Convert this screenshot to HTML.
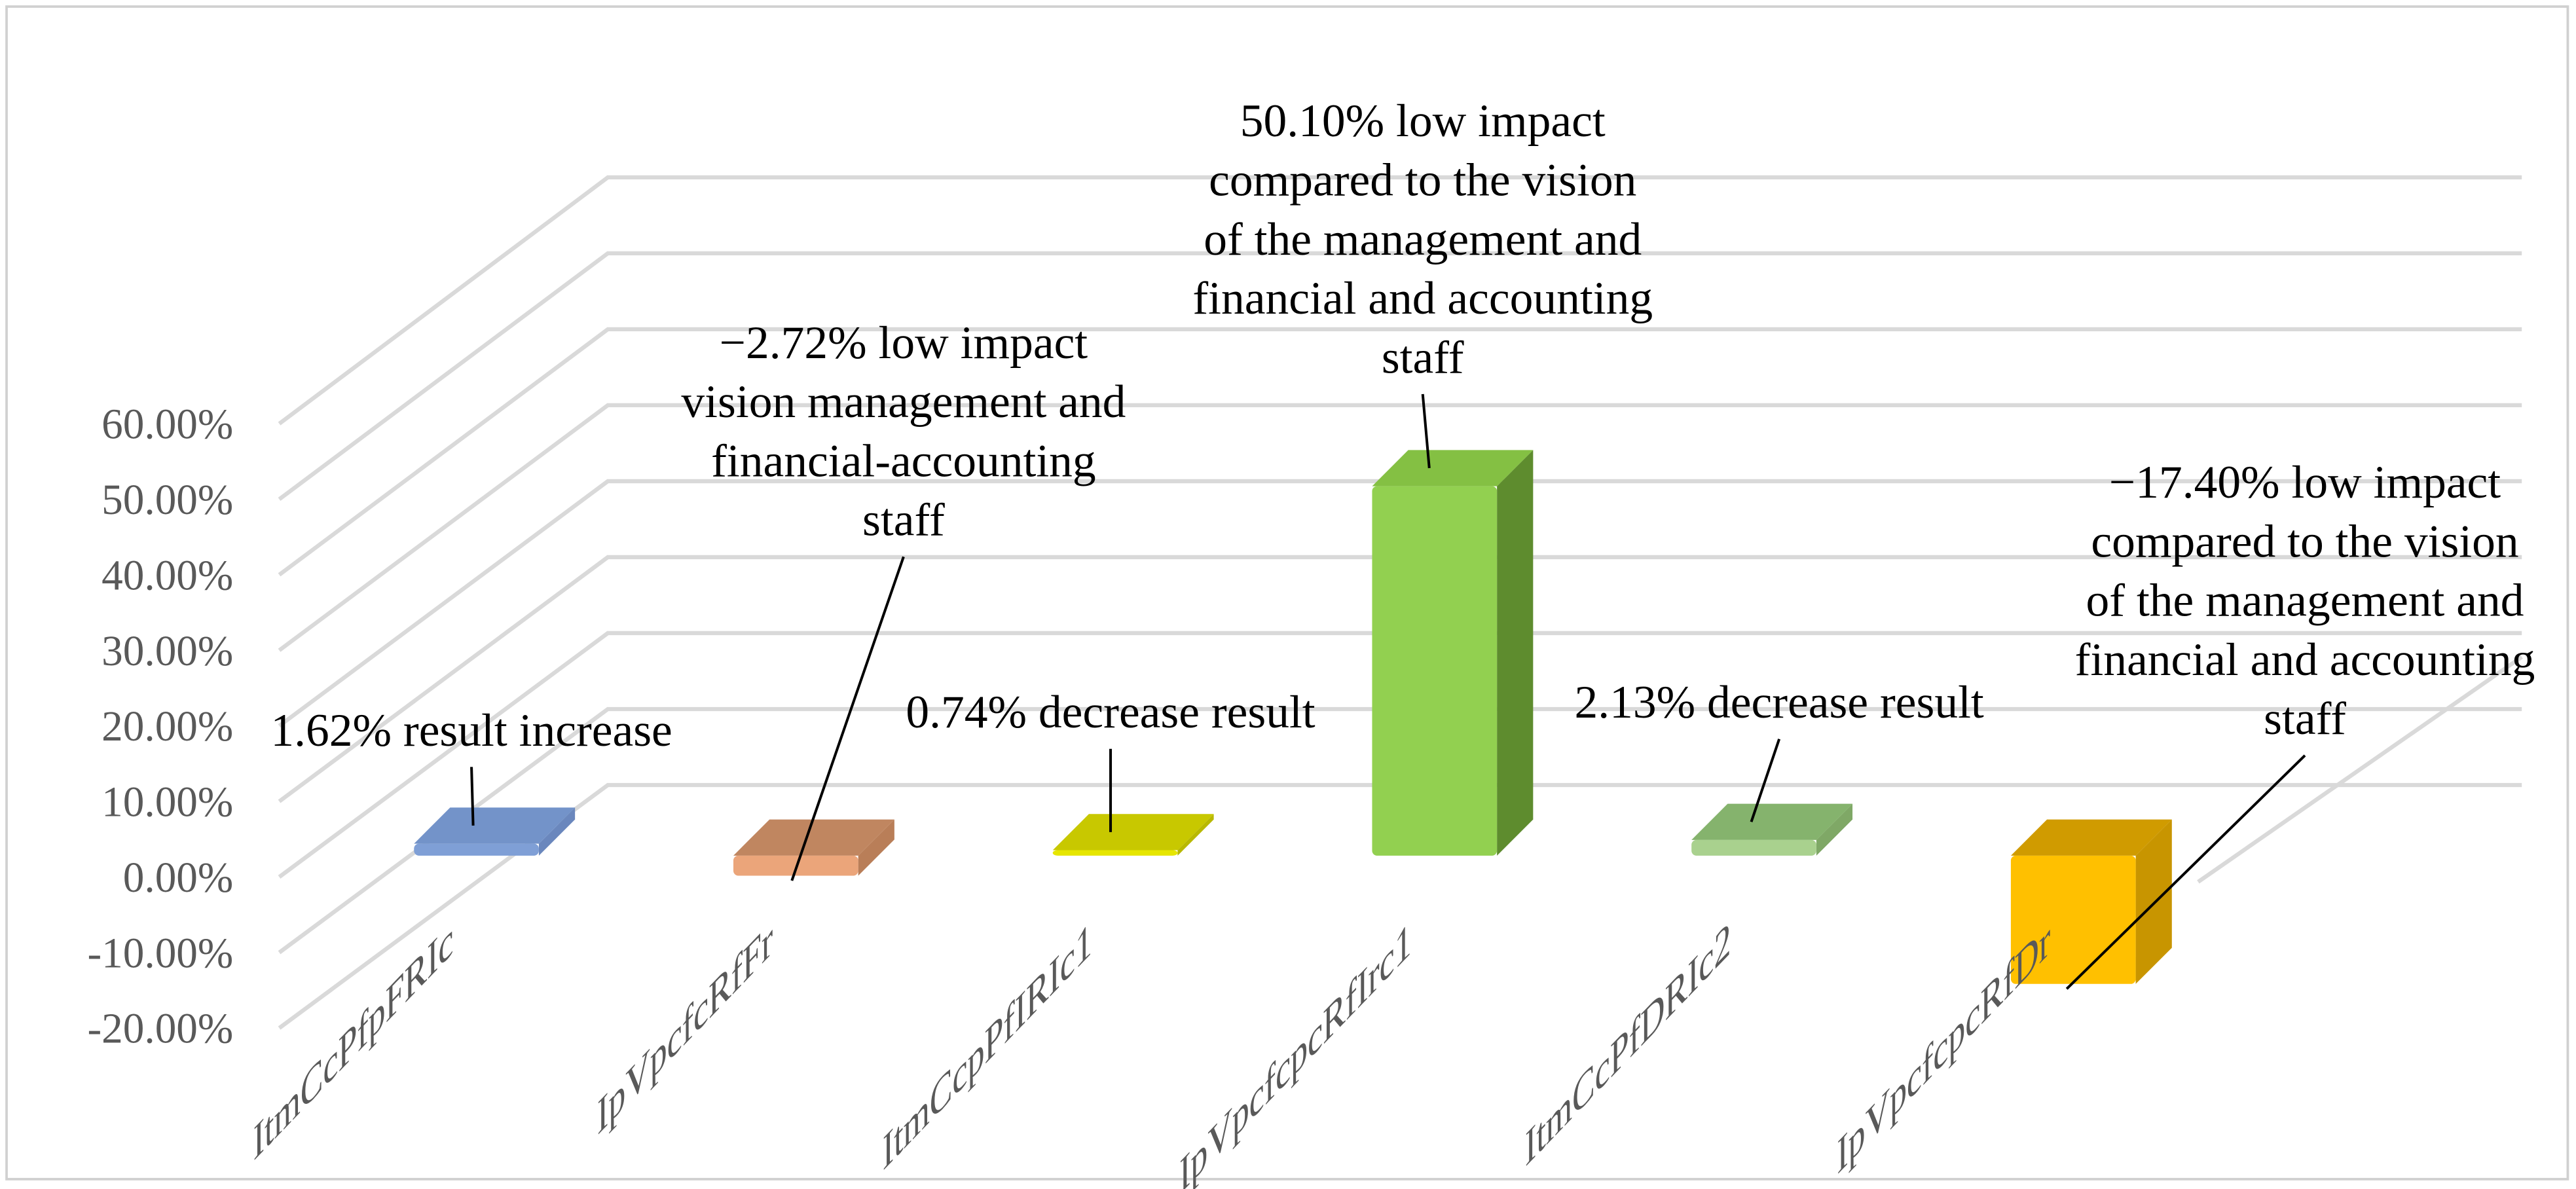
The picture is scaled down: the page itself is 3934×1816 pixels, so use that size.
<!DOCTYPE html>
<html><head><meta charset="utf-8"><style>
html,body{margin:0;padding:0;background:#fff;}
svg{display:block;}
svg text{font-family:"Liberation Serif","DejaVu Serif","Noto Serif CJK SC",serif !important;}
</style></head><body>
<svg id="chart" width="3934" height="1816" viewBox="0 0 1568 724" preserveAspectRatio="none" xmlns="http://www.w3.org/2000/svg">
<rect x="4" y="4" width="1559" height="714" fill="#fff" stroke="#d0d0d0" stroke-width="1.5"/>
<g id="grid"></g><g id="bars"></g><g id="labels"></g>
</svg>
<script>
const categories = ["ItmCcPfpFRIc","IpVpcfcRfFr","ItmCcpPfIRIc1","IpVpcfcpcRfIrc1","ItmCcPfDRIc2","IpVpcfcpcRfDr"];
const values = [1.62, -2.72, 0.74, 50.10, 2.13, -17.40];
const yTicks = [-20,-10,0,10,20,30,40,50,60];
const yTickLabels = ["-20.00%","-10.00%","0.00%","10.00%","20.00%","30.00%","40.00%","50.00%","60.00%"];
const annotations = [
 ["1.62% result increase"],
 ["\u22122.72% low impact","vision management and","financial-accounting","staff"],
 ["0.74% decrease result"],
 ["50.10% low impact","compared to the vision","of the management and","financial and accounting","staff"],
 ["2.13% decrease result"],
 ["\u221217.40% low impact","compared to the vision","of the management and","financial and accounting","staff"]
];
const colors=[["#7f9fd6","#6a87bd","#7393c9"],["#eba57a","#b97e58","#c08660"],["#e6e600","#b8b800","#c8c800"],["#92d050","#5e8c2e","#84c043"],["#a9d18e","#7fa866","#85b36d"],["#ffc000","#c89500","#d09b00"]];
const annotPos=[[287,445],[550,209],[676,434],[866,74],[1083,428],[1403,294]];
const NS="http://www.w3.org/2000/svg";
const SERIF="'Liberation Serif','DejaVu Serif',serif";
function mk(t,a,p){const e=document.createElementNS(NS,t);for(const k in a)e.setAttribute(k,a[k]);p.appendChild(e);return e;}
const frontY=v=>258+(60-v)/10*46;
const backY=v=>108+(60-v)/10*46.25;
const barY=v=>521-v*4.49;
const barX=i=>252+i*194.4;
const grid=document.getElementById('grid'),bars=document.getElementById('bars'),labels=document.getElementById('labels');
yTicks.forEach((v,i)=>{
 let l=mk('polyline',{points:`170,${frontY(v)} 370,${backY(v)} 1535,${backY(v)}`,fill:'none',stroke:'#d9d9d9','stroke-width':2.5},grid);
 
 
 let t=mk('text',{x:142,y:frontY(v)+9,'text-anchor':'end','font-size':26,fill:'#595959','font-family':SERIF},labels);
 t.textContent=yTickLabels[i];
 
 
});
let fl=mk('line',{x1:1338,y1:537,x2:1535,y2:400,stroke:'#d9d9d9','stroke-width':2.5},grid);


const W=76,D=22;
values.forEach((v,i)=>{
 const x=barX(i),y0=barY(0),y1=barY(v),top=Math.min(y0,y1),bot=Math.max(y0,y1);
 const g=mk('g',{},bars);
 
 
 const c=colors[i];
 mk('polygon',{points:`${x+W},${top} ${x+W+D},${top-D} ${x+W+D},${bot-D} ${x+W},${bot}`,fill:c[1]},g);
 mk('polygon',{points:`${x},${top} ${x+D},${top-D} ${x+W+D},${top-D} ${x+W},${top}`,fill:c[2]},g);
 mk('rect',{x:x,y:top,width:W,height:bot-top,fill:c[0],rx:3},g);
 const cx=x+24, cy=580;
 let t=mk('text',{x:0,y:0,'text-anchor':'end','font-size':30,fill:'#595959','font-family':SERIF,transform:`matrix(0.69 -0.72 0 1 ${cx} ${cy})`},labels);
 t.textContent=categories[i];
 
 
 const [ax,ay]=annotPos[i];
 const lines=annotations[i];
 lines.forEach((s,j)=>{
  let a=mk('text',{x:ax,y:ay+j*36+9,'text-anchor':'middle','font-size':28.5,fill:'#000','font-family':SERIF},labels);
  a.textContent=s;
  
  
 });
 const ly=ay+(lines.length-1)*36+22;
 const tx=[288,482,676,870,1066,1258][i];
 const ty=(v>=0?top-D/2:bot+3);
 let ln=mk('line',{x1:ax,y1:ly,x2:tx,y2:ty,stroke:'#000','stroke-width':1.6},labels);
 
 
});
</script>
</body></html>
